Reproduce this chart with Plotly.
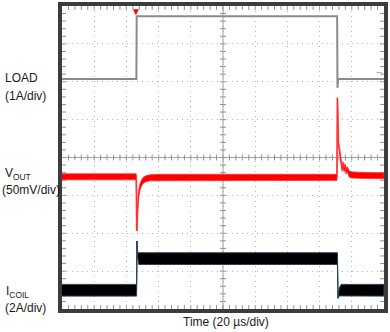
import plotly.graph_objects as go

# ---------------- data (read from the scope capture) ----------------
# time axis: 20 us/div, 10 divisions
load_t = [0, 46.2, 46.4, 170.9, 171.1, 171.5, 200]            # us
load_a = [0.3, 0.3, 1.96, 1.96, 0.07, 0.3, 0.3]                # A

vout_t = [0, 46.13, 46.44, 46.81, 47.25, 47.68, 48.30, 49.23, 50.15, 52.01,
          54.49, 60.68, 170.78, 171.09, 171.33, 171.70, 172.14, 172.76, 173.38,
          174.00, 174.61, 175.23, 175.85, 176.47, 177.09, 178.33, 179.57, 184.52, 200]
vout_mv = [0, 0, -71.6, -45.6, -29.9, -22.1, -14.3, -9.1, -5.2, -2.6,
           -1.3, -0.7, -0.7, 104.2, 74.2, 45.6, 37.8, 29.9, 19.5,
           10.4, 16.9, 9.1, 14.3, 6.5, 10.4, 3.9, 2.6, 2.0, 1.3]   # mV deviation
vout_noise_mv = [8, 8, 0, 5, 7, 7, 8, 8, 8, 8,
                 8, 8, 8, 0, 4, 4, 5, 6, 6,
                 6, 6, 6, 6, 6, 6, 8, 8, 8, 8]

icoil_t = [0, 46.32, 46.56, 47.06, 47.68, 171.09, 171.40, 172.14, 173.38, 200]
icoil_a = [0.3, 0.3, 2.90, 2.12, 1.97, 1.97, -0.12, 0.20, 0.3, 0.3]
icoil_ripple_a = [0.62, 0.62, 0, 0.3, 0.62, 0.62, 0, 0.4, 0.62, 0.62]

trigger_t = 46.1

# ---------------- scope settings ----------------
T_DIV, N_XDIV, N_YDIV = 20, 10, 8
T_MAX = T_DIV * N_XDIV
LOAD_SCALE, LOAD_REF, LOAD_POS = 1.0, 0.3, 6.07      # A/div, ref value, div position
VOUT_SCALE, VOUT_REF, VOUT_POS = 50.0, 0.0, 3.49
ICOIL_SCALE, ICOIL_REF, ICOIL_POS = 2.0, 0.3, 0.495

PX_PER_XDIV, PX_PER_YDIV = 32.3, 38.4


def ch_range(scale, ref, pos):
    return [ref - pos * scale, ref + (N_YDIV - pos) * scale]


def band(t, v, w):
    up = [a + b / 2 for a, b in zip(v, w)]
    lo = [a - b / 2 for a, b in zip(v, w)]
    return t + t[::-1], up + lo[::-1]


FONT = "Liberation Sans, Arial, sans-serif"
fig = go.Figure()

# LOAD (grey)
fig.add_trace(go.Scatter(x=load_t, y=load_a, mode="lines", yaxis="y2",
                         line=dict(color="#8a8a8a", width=2), hoverinfo="skip"))

# VOUT (red)
bx, by = band(vout_t, vout_mv, vout_noise_mv)
fig.add_trace(go.Scatter(x=vout_t, y=vout_mv, mode="lines", yaxis="y3",
                         line=dict(color="#ff8080", width=2), hoverinfo="skip"))
fig.add_trace(go.Scatter(x=bx, y=by, mode="lines", fill="toself", yaxis="y3",
                         fillcolor="#ff0000", line=dict(color="#ff3030", width=0.8),
                         hoverinfo="skip"))

# ICOIL (black)
fig.add_trace(go.Scatter(x=icoil_t, y=icoil_a, mode="lines", yaxis="y4",
                         line=dict(color="#7a8a9a", width=1.2), hoverinfo="skip"))
bx, by = band(icoil_t, icoil_a, icoil_ripple_a)
fig.add_trace(go.Scatter(x=bx, y=by, mode="lines", fill="toself", yaxis="y4",
                         fillcolor="#000000", line=dict(color="#2c4258", width=1),
                         hoverinfo="skip"))

grat = dict(showgrid=True, gridcolor="#b4b4b4", griddash="1px,4px", gridwidth=1,
            ticks="", showline=True, linecolor="#3c3c3c", linewidth=4, mirror=True,
            showticklabels=False, zeroline=False, fixedrange=True)

fig.update_layout(
    width=390, height=332,
    margin=dict(l=62, r=5, t=2, b=23),
    paper_bgcolor="white", plot_bgcolor="white",
    showlegend=False,
    xaxis=dict(range=[0, T_MAX], dtick=T_DIV, tick0=0, **grat),
    yaxis=dict(range=[0, N_YDIV], dtick=1, tick0=0, **grat),
    yaxis2=dict(range=ch_range(LOAD_SCALE, LOAD_REF, LOAD_POS), overlaying="y", visible=False),
    yaxis3=dict(range=ch_range(VOUT_SCALE, VOUT_REF, VOUT_POS), overlaying="y", visible=False),
    yaxis4=dict(range=ch_range(ICOIL_SCALE, ICOIL_REF, ICOIL_POS), overlaying="y", visible=False),
)

# graticule: centre cross-hair and ticks (centre: both sides, borders: inside)
CROSS = "#a0a0a0"
TICKC = "#909090"
tx = 3.0 / PX_PER_XDIV * T_DIV      # 3 px in time units
ty = 3.0 / PX_PER_YDIV              # 3 px in division units
bx_len = 4.0 / PX_PER_XDIV * T_DIV
by_len = 4.0 / PX_PER_YDIV


def seg(x0, x1, y0, y1, color):
    return dict(type="line", xref="x", yref="y", x0=x0, x1=x1, y0=y0, y1=y1,
                line=dict(color=color, width=1), layer="below")


shapes = [seg(T_MAX / 2, T_MAX / 2, 0, N_YDIV, CROSS),
          seg(0, T_MAX, N_YDIV / 2, N_YDIV / 2, CROSS)]
for i in range(1, N_XDIV * 5):
    t = i * T_DIV / 5
    shapes.append(seg(t, t, N_YDIV / 2 - ty, N_YDIV / 2 + ty, TICKC))
    shapes.append(seg(t, t, 0, by_len, TICKC))
    shapes.append(seg(t, t, N_YDIV - by_len, N_YDIV, TICKC))
for i in range(1, N_YDIV * 5):
    v = i * 0.2
    shapes.append(seg(T_MAX / 2 - tx, T_MAX / 2 + tx, v, v, TICKC))
    shapes.append(seg(0, bx_len, v, v, TICKC))
    shapes.append(seg(T_MAX - bx_len, T_MAX, v, v, TICKC))
fig.update_layout(shapes=shapes)

labels = [
    ("LOAD", 3, 75), ("(1A/div)", 3, 93),
    ("V<sub>OUT</sub>", 3, 172), ("(50mV/div)", 0, 188),
    ("I<sub>COIL</sub>", 4, 292), ("(2A/div)", 3, 308),
]
H = 307.0
for txt, px, py in labels:
    fig.add_annotation(text=txt, xref="paper", yref="paper",
                       x=(px - 62) / 323.0, y=(309 - py) / H,
                       xanchor="left", yanchor="middle", showarrow=False,
                       font=dict(family=FONT, size=12, color="#1a1a1a"))

fig.add_annotation(text="Time (20 µs/div)", xref="paper", yref="paper",
                   x=(227 - 62) / 323.0, y=(309 - 322) / H, xanchor="center",
                   yanchor="middle", showarrow=False,
                   font=dict(family=FONT, size=12, color="#1a1a1a"))

# trigger marker and channel marker
fig.add_annotation(text="▼", x=trigger_t, xref="x", yref="paper", y=1.0,
                   yanchor="top", showarrow=False, yshift=4,
                   font=dict(size=10, color="#ff0000"))
fig.add_annotation(text="←", xref="paper", yref="paper", x=(380 - 62) / 323.0,
                   y=(309 - 67) / H, xanchor="center", yanchor="middle", showarrow=False,
                   font=dict(size=9, color="#808080"))

fig.write_html("out.html")
